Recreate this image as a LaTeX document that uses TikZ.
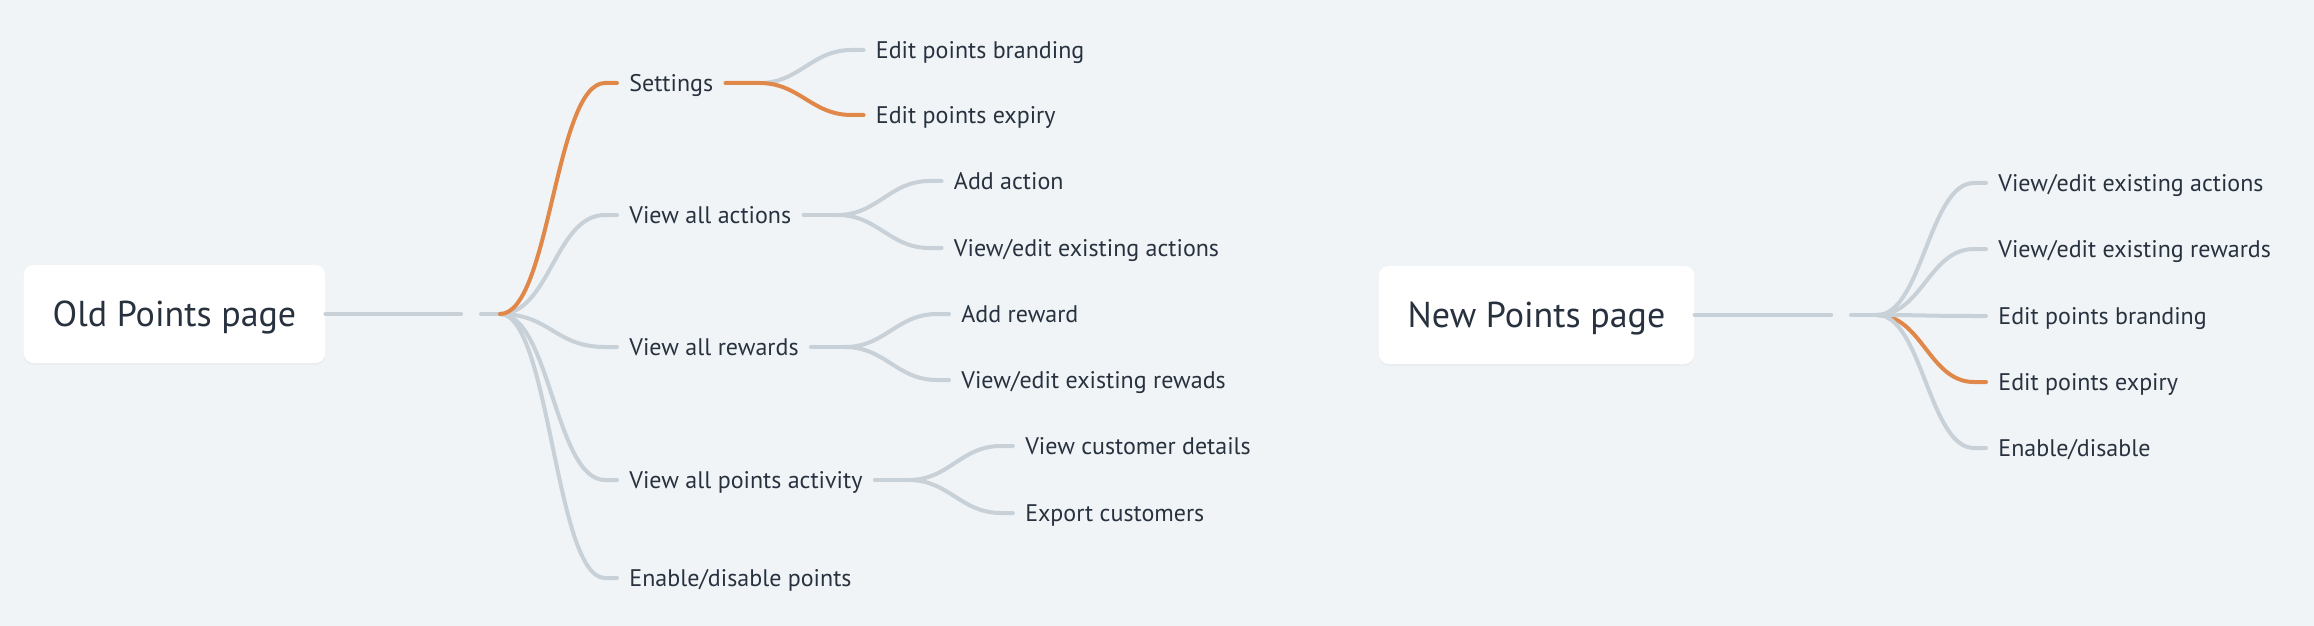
\documentclass[tikz,border=0pt]{standalone}
\usepackage{fontspec}
\setmainfont{PT Sans}
\usetikzlibrary{positioning,shadows}

\definecolor{bgcol}{RGB}{240,244,247}
\definecolor{linecol}{RGB}{200,208,216}
\definecolor{hicol}{RGB}{224,136,74}
\definecolor{inkcol}{RGB}{40,50,63}

\tikzset{
  rootbox/.style={fill=white,rounded corners=5pt,inner xsep=14.5pt,inner ysep=0pt,
    minimum height=49pt,text height=16.5pt,text depth=4pt,
    font=\fontsize{18}{20}\selectfont,text=inkcol,
    drop shadow={opacity=0.06,shadow xshift=0pt,shadow yshift=-1pt}},
  topic/.style={anchor=west,inner xsep=6pt,inner ysep=0pt,text height=10.4pt,text depth=2pt,
    font=\fontsize{12}{14}\selectfont,text=inkcol},
  branch/.style={draw=linecol,line width=2pt,line cap=round},
  hot/.style={branch,draw=hicol},
}

\begin{document}
\begin{tikzpicture}[x=0.5pt,y=-0.5pt]
\fill[bgcol] (0,0) rectangle (2314,626);
\useasboundingbox (0,0) rectangle (2314,626);

% old page
\node[rootbox] (old) at (174.5,314) {Old Points page};
\coordinate (oldEnd) at (461,314);
\coordinate (oldStub) at (481,314);
\coordinate (oldFork) at (500,314);
\draw[branch,line width=2.2pt] (old.east) -- (oldEnd);
\draw[branch] (oldStub) -- (oldFork);

\foreach \n/\y/\lab in {oS/83/Settings,oA/215/View all actions,oR/347/View all rewards,
  oP/480/View all points activity,oE/578/{Enable/disable points}} {
  \node[topic] (\n) at (617,\y) {\lab};
}
\foreach \n in {oA,oR,oP,oE} {
  \draw[branch] (oldFork) .. controls +(50,0) and +(-50,0) .. ([xshift=-6pt]\n.west) -- (\n.west);
}

\foreach \p/\n/\dy/\lab in {oS/oS1/-33/Edit points branding,oS/oS2/32/Edit points expiry,
  oA/oA1/-34/Add action,oA/oA2/33/{View/edit existing actions},
  oR/oR1/-33/Add reward,oR/oR2/33/{View/edit existing rewads},
  oP/oP1/-34/View customer details,oP/oP2/33/Export customers} {
  \node[topic] (\n) at ([shift={(138,\dy)}]\p.east) {\lab};
}
\foreach \p in {oS,oA,oR,oP} {
  \coordinate (\p-f) at ([xshift=17pt]\p.east);
  \draw[branch] (\p.east) -- (\p-f);
}
\foreach \p/\n in {oS/oS1,oA/oA1,oA/oA2,oR/oR1,oR/oR2,oP/oP1,oP/oP2} {
  \draw[branch] (\p-f) .. controls +(40,0) and +(-40,0) .. ([xshift=-6pt]\n.west) -- (\n.west);
}
% highlighted path
\draw[hot] (oldFork) .. controls +(50,0) and +(-50,0) .. ([xshift=-6pt]oS.west) -- (oS.west);
\draw[hot] (oS.east) -- (oS-f) .. controls +(40,0) and +(-40,0) .. ([xshift=-6pt]oS2.west) -- (oS2.west);

% new page
\node[rootbox] (new) at (1536.5,315) {New Points page};
\coordinate (newEnd) at (1831,315);
\coordinate (newStub) at (1851,315);
\coordinate (newFork) at (1877,315);
\draw[branch,line width=2.2pt] (new.east) -- (newEnd);

\foreach \n/\y/\lab in {nA/183/{View/edit existing actions},nR/249/{View/edit existing rewards},
  nB/316/Edit points branding,nX/382/Edit points expiry,nE/448/{Enable/disable}} {
  \node[topic] (\n) at (1986,\y) {\lab};
}
\draw[hot] (newFork) .. controls +(45,0) and +(-45,0) .. ([xshift=-6pt]nX.west) -- (nX.west);
\draw[branch] (newStub) -- (newFork);
\foreach \n in {nA,nR,nB,nE} {
  \draw[branch] (newFork) .. controls +(45,0) and +(-45,0) .. ([xshift=-6pt]\n.west) -- (\n.west);
}
\end{tikzpicture}
\end{document}
